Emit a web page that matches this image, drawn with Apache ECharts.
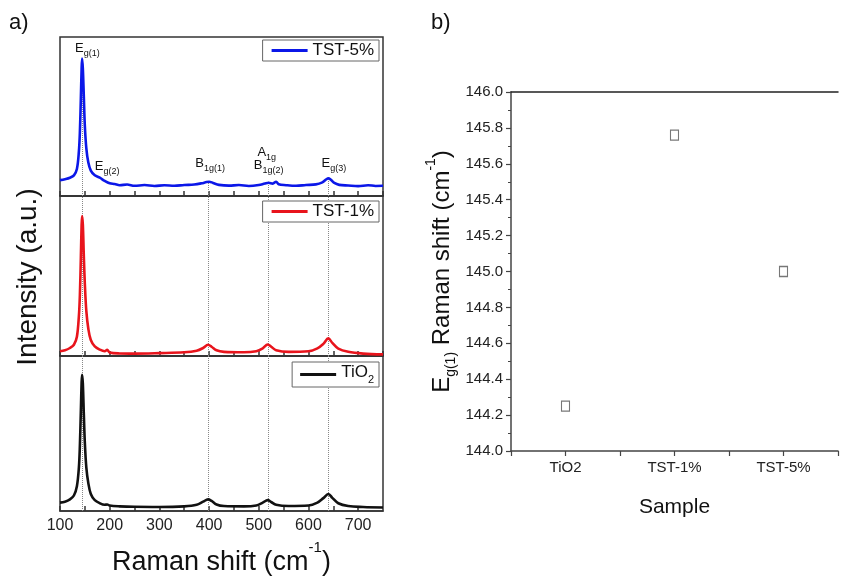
<!DOCTYPE html>
<html>
<head>
<meta charset="utf-8">
<script src="https://cdn.jsdelivr.net/npm/echarts@6/dist/echarts.min.js"></script>
<style>
  html, body { margin: 0; padding: 0; background: #fff; }
  #chart { width: 841px; height: 577px; }
</style>
</head>
<body>
<div id="chart"></div>
<script>
// panel a: Raman spectra, [shift (cm-1), intensity (a.u., per panel)]
const tst5 = [
  [100, 10], [110, 10.6], [120, 11.5], [128, 13], [134, 17], [138, 28], [140, 40], [142, 62],
  [143.5, 80], [144.5, 86.5], [146, 80], [148, 62], [150, 44], [153, 30], [157, 21], [162, 16],
  [170, 13], [180, 11.5], [190, 9.5], [200, 8], [210, 7.5], [220, 6.8], [235, 7.2], [250, 6.4],
  [270, 6.9], [290, 6.3], [310, 6.8], [330, 6.4], [350, 6.9], [370, 7.2], [385, 8], [395, 8.8],
  [400, 9], [408, 8.2], [420, 7], [440, 6.5], [460, 6.9], [480, 6.3], [500, 6.9], [512, 7.8],
  [520, 8.3], [528, 7.8], [535, 9], [540, 7.4], [555, 6.8], [575, 6.4], [595, 6.9], [615, 7.3],
  [628, 8.6], [636, 10.5], [640, 11.2], [645, 10.2], [652, 8.2], [662, 7], [680, 6.6], [700, 6.2],
  [720, 6.8], [735, 6.3], [750, 6.4]
];
const tst1 = [
  [100, 3], [110, 3.6], [120, 5], [128, 7], [134, 12], [138, 25], [140, 38], [142, 62],
  [143.5, 82], [144.5, 87.5], [146, 82], [148, 62], [150, 45], [153, 28], [157, 17], [162, 10],
  [170, 6], [180, 4], [190, 3], [195, 3.8], [200, 2.2], [220, 1.6], [250, 1.5], [300, 1.8],
  [350, 2.3], [375, 3.3], [388, 5], [398, 7], [405, 5.8], [415, 3.6], [430, 2.6], [470, 2.3],
  [495, 3], [508, 4.8], [518, 7.2], [525, 5.8], [535, 3.6], [560, 2.6], [600, 3], [618, 4.8],
  [630, 7.6], [640, 11], [648, 8.2], [660, 4.6], [680, 2.6], [710, 1.5], [750, 1]
];
const tio2 = [
  [100, 5.4], [110, 6], [120, 7.5], [128, 10], [134, 16], [138, 28], [140, 42], [142, 65],
  [143.5, 83], [144.5, 87.8], [146, 82], [148, 62], [150, 44], [153, 28], [157, 18], [162, 11],
  [170, 7], [180, 5], [190, 4], [195, 4.2], [200, 3.5], [220, 3], [250, 2.7], [300, 2.6],
  [350, 3], [375, 4], [388, 6], [398, 7.5], [405, 6.5], [415, 4.2], [430, 3.2], [470, 3],
  [495, 3.6], [508, 5.4], [518, 7], [525, 5.8], [535, 4], [560, 3.2], [600, 3.5], [618, 5.4],
  [630, 8.3], [640, 11], [648, 8.5], [660, 5], [680, 3.2], [710, 2.6], [750, 2.3]
];
const modeShifts = [144, 399, 519, 639];
const topModeEnds = [86, 8.5, 9, 11];
const peakLabels = ['{m|E}{s|g(1)}', '{m|E}{s|g(2)}', '{m|B}{s|1g(1)}', '{m|A}{s|1g}', '{m|B}{s|1g(2)}', '{m|E}{s|g(3)}'];
const peakLabelAt = [[155, 92], [195, 17.5], [402, 19.5], [516, 26.5], [520, 18], [651, 19.5]];

// panel b: Eg(1) position per sample
const samples = ['TiO2', 'TST-1%', 'TST-5%'];
const eg1Shift = [144.25, 145.76, 145.0];

const sans = '"Liberation Sans", Arial, sans-serif';

const tops = [37, 196, 356];
const heights = [159, 160, 161];

const grids = tops.map((t, i) => ({
  left: 60, top: t, width: 323, height: heights[i],
  show: true, borderColor: '#333', borderWidth: 1.5, backgroundColor: 'transparent'
}));
grids.push({ left: 511, top: 92, width: 333, height: 359 });

const xAxes = [0, 1, 2].map(i => ({
  type: 'value', gridIndex: i, min: 100, max: 750, interval: 50,
  axisLine: { show: true, lineStyle: { color: '#333', width: 1.5 } },
  axisTick: { show: true, inside: true, length: 5, lineStyle: { color: '#333', width: 1.5 } },
  splitLine: { show: false },
  axisLabel: {
    show: i === 2, color: '#222', fontSize: 16, fontFamily: sans, margin: 7,
    showMaxLabel: false,
    formatter: v => (v % 100 === 0 ? String(v) : '')
  },
  name: i === 2 ? '{t|Raman shift (cm}{sup|-1}{t|)}' : '',
  nameLocation: 'middle', nameGap: 29,
  nameTextStyle: {
    rich: {
      t: { fontSize: 27, fontFamily: sans, color: '#111', padding: [9, 0, 0, 0], verticalAlign: 'top' },
      sup: { fontSize: 15, fontFamily: sans, color: '#111', verticalAlign: 'top' }
    }
  }
}));
xAxes.push({
  type: 'value', gridIndex: 3, min: 0.5, max: 3.5, interval: 0.5,
  axisLine: { show: true, lineStyle: { color: '#444', width: 1.5 } },
  axisTick: { show: true, length: 5, lineStyle: { color: '#444', width: 1.2 } },
  splitLine: { show: false },
  axisLabel: {
    color: '#222', fontSize: 15, fontFamily: sans, margin: 9,
    formatter: v => (Number.isInteger(v) ? samples[v - 1] : '')
  },
  name: 'Sample', nameLocation: 'middle', nameGap: 46,
  nameTextStyle: { fontSize: 21, fontFamily: sans, color: '#111' }
});
xAxes.push({
  type: 'value', gridIndex: 3, position: 'top', min: 0.5, max: 3.5,
  axisLine: { show: true, lineStyle: { color: '#222', width: 1.5 } },
  axisTick: { show: false }, axisLabel: { show: false }, splitLine: { show: false }
});

const yAxes = [0, 1, 2].map(i => ({ type: 'value', gridIndex: i, min: 0, max: 100, show: false }));
yAxes.push({
  type: 'value', gridIndex: 3, min: 144, max: 146, interval: 0.2,
  axisLine: { show: true, lineStyle: { color: '#444', width: 1.5 } },
  axisTick: { show: true, length: 5, lineStyle: { color: '#444', width: 1.2 } },
  minorTick: { show: true, splitNumber: 2, length: 3, lineStyle: { color: '#444', width: 1 } },
  splitLine: { show: false },
  axisLabel: { color: '#222', fontSize: 15, fontFamily: sans, margin: 8, formatter: v => v.toFixed(1) },
  name: '{m|E}{s|g(1)}{m| Raman shift (cm}{p|-1}{m|)}',
  nameLocation: 'middle', nameGap: 53, nameRotate: 90,
  nameTextStyle: {
    rich: {
      m: { fontSize: 24, fontFamily: sans, color: '#111', padding: [6, 0, 0, 0], verticalAlign: 'top' },
      s: { fontSize: 14, fontFamily: sans, color: '#111', padding: [20, 0, 0, 0], verticalAlign: 'top' },
      p: { fontSize: 14, fontFamily: sans, color: '#111', verticalAlign: 'top' }
    }
  }
});

function modeLines(ends) {
  return {
    silent: true, symbol: 'none', z: 1,
    label: { show: false },
    lineStyle: { color: '#888', type: 'dotted', width: 1 },
    data: modeShifts.map((s, k) => [{ coord: [s, 0] }, { coord: [s, ends[k]] }])
  };
}

const specSeries = [
  { name: 'TST-5%', data: tst5, color: '#0b17e8' },
  { name: 'TST-1%', data: tst1, color: '#e8141c' },
  { name: 'TiO₂', data: tio2, color: '#111111' }
].map((s, i) => ({
  type: 'line', name: s.name, xAxisIndex: i, yAxisIndex: i, data: s.data,
  showSymbol: false, symbol: 'none', smooth: 0.35,
  lineStyle: { color: s.color, width: 2.6 }, itemStyle: { color: s.color },
  z: 3,
  markLine: modeLines(i === 0 ? topModeEnds : [100, 100, 100, 100])
}));

specSeries[0].markPoint = {
  symbol: 'circle', symbolSize: 1, itemStyle: { color: 'transparent' }, silent: true,
  label: {
    show: true, position: 'inside', color: '#111',
    rich: {
      m: { fontSize: 13, fontFamily: sans, color: '#111', verticalAlign: 'top' },
      s: { fontSize: 9, fontFamily: sans, color: '#111', padding: [7, 0, 0, 0], verticalAlign: 'top' }
    }
  },
  data: peakLabels.map((t, k) => ({ coord: peakLabelAt[k], label: { formatter: t } }))
};

const legendBase = {
  orient: 'vertical', icon: 'rect', itemWidth: 36, itemHeight: 3, itemGap: 0,
  borderColor: '#666', borderWidth: 1, borderRadius: 0, backgroundColor: '#fff',
  textStyle: { fontSize: 17, fontFamily: sans, color: '#111' }
};
const legends = [
  Object.assign({}, legendBase, { data: ['TST-5%'], right: 462, top: 40, padding: [2, 5, 2, 9] }),
  Object.assign({}, legendBase, { data: ['TST-1%'], right: 462, top: 201, padding: [2, 5, 2, 9] }),
  Object.assign({}, legendBase, {
    data: ['TiO₂'], right: 462, top: 362, padding: [2, 5, 2, 8],
    formatter: () => '{a|TiO}{b|2}',
    textStyle: {
      fontSize: 17, fontFamily: sans, color: '#111',
      rich: {
        a: { fontSize: 17, fontFamily: sans, color: '#111', verticalAlign: 'top' },
        b: { fontSize: 11, fontFamily: sans, color: '#111', padding: [10, 0, 0, 0], verticalAlign: 'top' }
      }
    }
  })
];

const chart = echarts.init(document.getElementById('chart'), null, { renderer: 'canvas' });
chart.setOption({
  animation: false,
  backgroundColor: '#fff',
  grid: grids,
  xAxis: xAxes,
  yAxis: yAxes,
  legend: legends,
  graphic: [
    { type: 'text', left: 9, top: 12, style: { text: 'a)', fontSize: 22, fontFamily: sans, fill: '#111' } },
    { type: 'text', left: 431, top: 12, style: { text: 'b)', fontSize: 22, fontFamily: sans, fill: '#111' } },
    {
      type: 'text', x: 28, y: 277, rotation: Math.PI / 2,
      style: { text: 'Intensity (a.u.)', fontSize: 28, fontFamily: sans, fill: '#111', align: 'center', verticalAlign: 'middle' }
    }
  ],
  series: specSeries.concat([{
    type: 'scatter', name: 'Eg(1)', xAxisIndex: 3, yAxisIndex: 3,
    data: eg1Shift.map((v, k) => [k + 1, v]),
    symbol: 'rect', symbolSize: [8, 10],
    itemStyle: { color: '#fff', borderColor: '#555', borderWidth: 1.2 }
  }])
});
</script>
</body>
</html>
